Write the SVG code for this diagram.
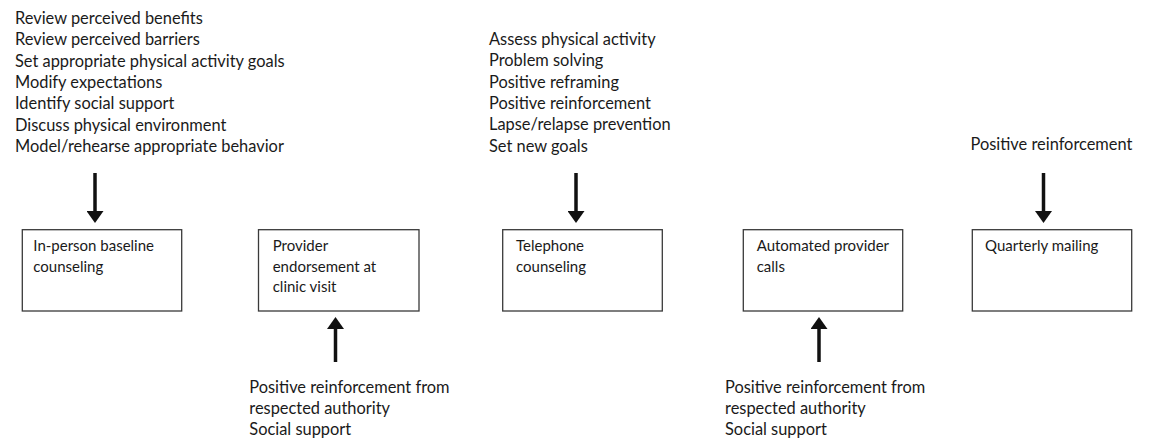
<svg xmlns="http://www.w3.org/2000/svg" width="1149" height="438" viewBox="0 0 1149 438">
  <style>
    .list { font-family: Lato, "Liberation Sans", sans-serif; font-size: 16.4px; fill: #1a1a1a; }
    .label { font-family: Lato, "Liberation Sans", sans-serif; font-size: 15px; fill: #1a1a1a; }
    .box { fill: #ffffff; stroke: #3a3a3a; stroke-width: 1.3; }
    .arrow { stroke: #111111; stroke-width: 3.5; fill: none; marker-end: url(#head); }
  </style>
  <defs>
    <marker id="head" viewBox="0 0 12 17" refX="0" refY="8.5" markerWidth="12" markerHeight="17" markerUnits="userSpaceOnUse" orient="auto">
      <path d="M0,0 L12,8.5 L0,17 z" fill="#111111"/>
    </marker>
  </defs>
  <rect width="1149" height="438" fill="#ffffff"/>

  <!-- technique lists -->
  <g id="list-baseline" class="list">
    <text x="15" y="24">Review perceived benefits</text>
    <text x="15" y="45.3">Review perceived barriers</text>
    <text x="15" y="66.6">Set appropriate physical activity goals</text>
    <text x="15" y="87.9">Modify expectations</text>
    <text x="15" y="109.2">Identify social support</text>
    <text x="15" y="130.5">Discuss physical environment</text>
    <text x="15" y="151.8">Model/rehearse appropriate behavior</text>
  </g>
  <g id="list-telephone" class="list">
    <text x="489" y="45">Assess physical activity</text>
    <text x="489" y="66.3">Problem solving</text>
    <text x="489" y="87.6">Positive reframing</text>
    <text x="489" y="108.9">Positive reinforcement</text>
    <text x="489" y="130.2">Lapse/relapse prevention</text>
    <text x="489" y="151.5">Set new goals</text>
  </g>
  <g id="list-mailing" class="list">
    <text x="970.5" y="150">Positive reinforcement</text>
  </g>
  <g id="list-endorsement" class="list">
    <text x="249.3" y="392.5">Positive reinforcement from</text>
    <text x="249.3" y="413.8">respected authority</text>
    <text x="249.3" y="435">Social support</text>
  </g>
  <g id="list-calls" class="list">
    <text x="725" y="392.5">Positive reinforcement from</text>
    <text x="725" y="413.8">respected authority</text>
    <text x="725" y="435">Social support</text>
  </g>

  <!-- intervention components -->
  <g id="node-baseline">
    <rect class="box" x="22.3" y="229.7" width="159.4" height="81.3"/>
    <text class="label" x="33.3" y="251">In-person baseline</text>
    <text class="label" x="33.3" y="271.7">counseling</text>
  </g>
  <g id="node-endorsement">
    <rect class="box" x="258.5" y="229.7" width="160.5" height="81.3"/>
    <text class="label" x="272.7" y="251">Provider</text>
    <text class="label" x="272.7" y="271.5">endorsement at</text>
    <text class="label" x="272.7" y="292">clinic visit</text>
  </g>
  <g id="node-telephone">
    <rect class="box" x="502.7" y="229.7" width="159.6" height="81.3"/>
    <text class="label" x="516" y="251">Telephone</text>
    <text class="label" x="516" y="271.7">counseling</text>
  </g>
  <g id="node-calls">
    <rect class="box" x="743.3" y="229.7" width="159.4" height="81.3"/>
    <text class="label" x="756.7" y="251">Automated provider</text>
    <text class="label" x="756.7" y="271.7">calls</text>
  </g>
  <g id="node-mailing">
    <rect class="box" x="972.3" y="229.7" width="159.4" height="81.3"/>
    <text class="label" x="985" y="251">Quarterly mailing</text>
  </g>

  <!-- connectors -->
  <g id="connectors">
    <line class="arrow" x1="95" y1="173" x2="95" y2="211"/>
    <line class="arrow" x1="576" y1="173" x2="576" y2="211"/>
    <line class="arrow" x1="1043.5" y1="173" x2="1043.5" y2="211"/>
    <line class="arrow" x1="335.5" y1="362" x2="335.5" y2="329"/>
    <line class="arrow" x1="819" y1="362" x2="819" y2="329"/>
  </g>
</svg>
